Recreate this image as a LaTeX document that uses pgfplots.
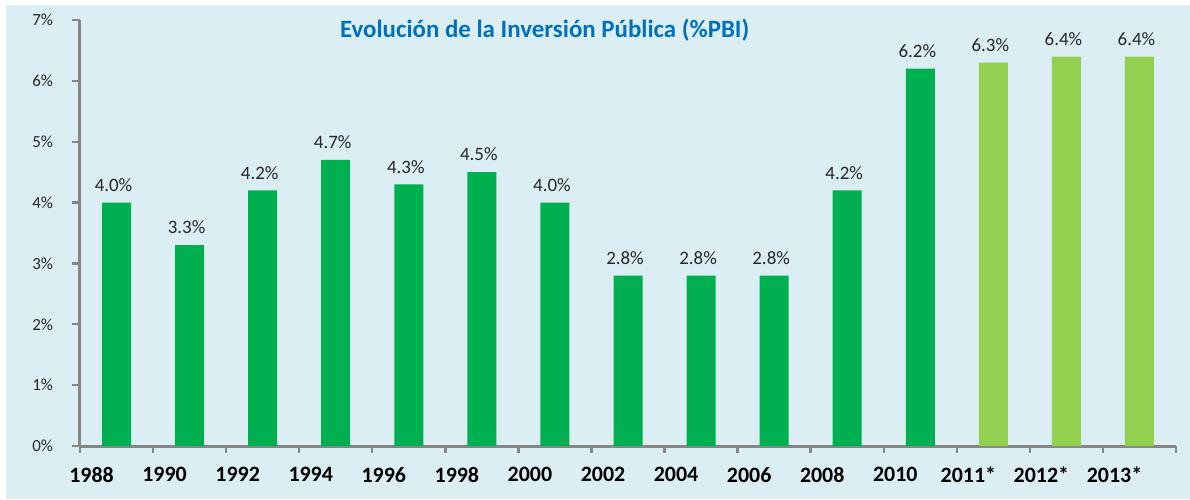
\documentclass[border=0pt]{standalone}
\usepackage{pgfplots}
\pgfplotsset{compat=1.18}
\usepackage{fontspec}
\setmainfont{Carlito}
\definecolor{bg}{HTML}{DAEEF3}
\definecolor{gA}{HTML}{00B050}
\definecolor{gB}{HTML}{92D050}
\definecolor{ttl}{HTML}{0070C0}
\definecolor{axg}{HTML}{868686}
\definecolor{lbl}{HTML}{262626}
\begin{document}
\begin{tikzpicture}[x=1bp,y=1bp]
\fill[white] (-40,-26.5) rectangle (555,223);
\fill[bg] (-37,-26.5) rectangle (555,220.5);
\begin{axis}[
  at={(0,0)}, anchor=south west,
  scale only axis, width=548bp, height=213bp,
  xmin=-0.5, xmax=14.5, ymin=0, ymax=7,
  axis lines=left,
  axis line style={-, draw=axg, line width=1.5bp},
  tick align=outside,
  ybar, bar width=14.5bp, bar shift=0pt,
  /pgf/number format/assume math mode=true,
  xtick={0,...,14},
  xticklabels={1988,1990,1992,1994,1996,1998,2000,2002,2004,2006,2008,2010,2011*,2012*,2013*},
  major x tick style={draw=none},
  minor xtick={-0.5,0.5,...,14.5},
  minor tick length=3.5bp,
  minor x tick style={draw=axg, line width=1.2bp},
  x tick label style={font=\bfseries\fontsize{11}{13}\selectfont, text=black, xshift=-12.5bp, yshift=-3bp},
  ytick={0,...,7},
  major tick length=4bp,
  major y tick style={draw=axg, line width=1.2bp},
  yticklabel={\pgfmathprintnumber{\tick}\%},
  y tick label style={font=\fontsize{8.5}{10}\selectfont, text=lbl, xshift=-6bp},
  nodes near coords={\pgfmathprintnumber[fixed,fixed zerofill,precision=1]{\pgfplotspointmeta}\%},
  nodes near coords style={font=\fontsize{9.5}{11}\selectfont, text=lbl, yshift=2bp, xshift=-1.5bp},
  clip=false,
]
\addplot[fill=gA, draw=none] coordinates {
 (0,4.0) (1,3.3) (2,4.2) (3,4.7) (4,4.3) (5,4.5) (6,4.0)
 (7,2.8) (8,2.8) (9,2.8) (10,4.2) (11,6.2)};
\addplot[fill=gB, draw=none] coordinates {
 (12,6.3) (13,6.4) (14,6.4)};
\node[font=\bfseries\fontsize{12.5}{14}\selectfont, text=ttl] at (rel axis cs:0.424,0.977) {Evolución de la Inversión Pública (\%PBI)};
\end{axis}
\end{tikzpicture}
\end{document}
